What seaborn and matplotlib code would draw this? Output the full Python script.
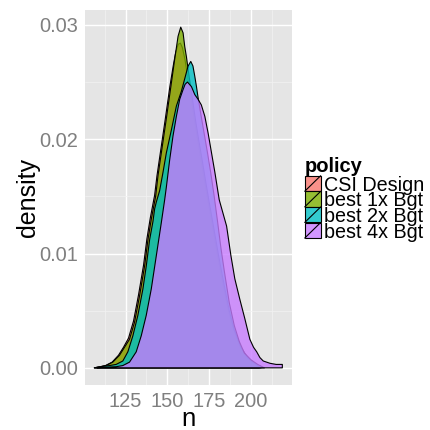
import matplotlib
matplotlib.use("Agg")
import matplotlib.pyplot as plt
import seaborn as sns
import pandas as pd
from matplotlib.patches import Rectangle
from matplotlib.lines import Line2D
from matplotlib.colors import to_rgba

# ---------------- data ----------------
policies = ["CSI Design", "best 1x Bgt", "best 2x Bgt", "best 4x Bgt"]
colors = ["#F8766D", "#7CAE00", "#00BFC4", "#C77CFF"]

csi_n = [106.4, 110, 113, 117, 120.8, 123.8, 126.8, 129.8, 132.8, 135.8, 137.8, 139.8,
         142.4, 143.8, 145.8, 148.7, 151.5, 153.5, 155, 156.5, 157.8, 159, 160.5, 162,
         164, 166, 168, 170, 172, 174, 177, 180, 183, 186, 189, 193, 197, 202, 205]
csi_d = [0, 0.0001, 0.0002, 0.0005, 0.0011, 0.0018, 0.0026, 0.0041, 0.0064, 0.0090, 0.0113, 0.0131,
         0.0151, 0.0168, 0.0188, 0.0217, 0.0246, 0.0264, 0.0276, 0.0283, 0.0284, 0.0280, 0.0270, 0.0256,
         0.0238, 0.0218, 0.0200, 0.0182, 0.0165, 0.0148, 0.0123, 0.0098, 0.0075, 0.0053, 0.0036, 0.0020,
         0.0010, 0.0003, 0]

b1_n = [106.4, 110, 113.4, 117.4, 121.4, 124.4, 127.4, 130.4, 133.4, 136.4, 138.4, 140.4,
        143.0, 144.4, 146.4, 149.3, 152.1, 154.1, 155.2, 156.4, 158.0, 159.4, 160.4, 161.4,
        163, 165, 167, 169, 171, 173, 175, 178, 181, 184, 187, 190, 194, 198, 203, 206]
b1_d = [0, 0.0001, 0.0002, 0.0005, 0.0011, 0.0018, 0.0025, 0.0040, 0.0063, 0.0089, 0.0112, 0.0130,
        0.0150, 0.0168, 0.0188, 0.0217, 0.0246, 0.0267, 0.0278, 0.0290, 0.0298, 0.0293, 0.0281, 0.0272,
        0.0255, 0.0235, 0.0215, 0.0197, 0.0180, 0.0162, 0.0145, 0.0120, 0.0095, 0.0072, 0.0050, 0.0033,
        0.0018, 0.0009, 0.0003, 0]

b2_n = [106.4, 110, 115.4, 119.4, 123.4, 126.4, 129.4, 132.4, 135.4, 137.4, 139.4, 141.4,
        142.4, 143.4, 144.4, 145.4, 147.4, 149.4, 152.4, 155.4, 158.4, 160.4, 162.4, 164.0,
        165.3, 166.4, 167.4, 168.3, 170, 172, 174, 176, 178, 180, 182, 184, 187, 190, 193,
        196, 200, 204, 208]
b2_d = [0, 0.0001, 0.0002, 0.0003, 0.0006, 0.0014, 0.0028, 0.0046, 0.0069, 0.0089, 0.0112, 0.0128,
        0.0139, 0.0145, 0.0150, 0.0155, 0.0171, 0.0188, 0.0208, 0.0229, 0.0242, 0.0253, 0.0264, 0.0268,
        0.0264, 0.0255, 0.0246, 0.0237, 0.0222, 0.0205, 0.0188, 0.0170, 0.0150, 0.0128, 0.0105, 0.0085,
        0.0057, 0.0037, 0.0023, 0.0013, 0.0007, 0.0003, 0]

b4_n = [108, 112, 119.4, 123.4, 127.4, 131.4, 134.4, 137.4, 140.4, 143.4, 146.4, 148.4,
        149.4, 151.4, 153.4, 155.4, 157.4, 159.3, 160.6, 162.0, 164.4, 166.4, 168.3, 170.3,
        172.4, 174.4, 176.4, 178.4, 181.0, 185.4, 188, 190.3, 193.3, 196.3, 199.3, 201.5,
        203.4, 205.3, 207.3, 211.3, 215, 218.7, 218.7]
b4_d = [0, 0.00005, 0.0001, 0.0002, 0.0005, 0.0014, 0.0028, 0.0046, 0.0069, 0.0098, 0.0127, 0.0147,
        0.0158, 0.0182, 0.0203, 0.0220, 0.0235, 0.0243, 0.0248, 0.0250, 0.0246, 0.0239, 0.0235, 0.0230,
        0.0220, 0.0205, 0.0188, 0.0171, 0.0147, 0.0124, 0.0098, 0.0078, 0.0060, 0.0043, 0.0025, 0.0018,
        0.0014, 0.0009, 0.0006, 0.0004, 0.0003, 0.0003, 0]

x_ticks = [125, 150, 175, 200]
y_ticks = [0.00, 0.01, 0.02, 0.03]
y_tick_labels = ["0.00", "0.01", "0.02", "0.03"]

frames = []
for name, xs, ys in zip(policies, [csi_n, b1_n, b2_n, b4_n], [csi_d, b1_d, b2_d, b4_d]):
    frames.append(pd.DataFrame({"n": xs, "density": ys, "policy": name}))
df = pd.concat(frames, ignore_index=True)

# ---------------- style ----------------
sns.set_theme(style="darkgrid")
plt.rcParams["font.family"] = ["Liberation Sans", "DejaVu Sans"]

W = H = 430
fig = plt.figure(figsize=(4.3, 4.3), dpi=100)
fig.patch.set_facecolor("white")

L, R, T, B = 85, 291.7, 10, 385
ax = fig.add_axes([L / W, 1 - B / H, (R - L) / W, (B - T) / H])
ax.set_facecolor("#E5E5E5")
for s in ax.spines.values():
    s.set_visible(False)

alpha = 0.8
for i, (name, col) in enumerate(zip(policies, colors)):
    sub = df[df["policy"] == name]
    ax.fill(sub["n"].to_numpy(), sub["density"].to_numpy(),
            facecolor=to_rgba(col, alpha), edgecolor="black", linewidth=0.8,
            joinstyle="round", zorder=2 + i)

ax.set_xlim(100.8, 224.3)
ax.set_ylim(-0.0015, 0.0313)

ax.set_xticks(x_ticks)
ax.set_xticks([112.5, 137.5, 162.5, 187.5, 212.5], minor=True)
ax.set_yticks(y_ticks)
ax.set_yticklabels(y_tick_labels)
ax.set_yticks([0.005, 0.015, 0.025], minor=True)

ax.grid(which="major", color="white", linewidth=1.0, zorder=0)
ax.grid(which="minor", color="#F2F2F2", linewidth=0.5, zorder=0)
ax.set_axisbelow(True)

ax.tick_params(axis="both", which="major", length=3.2, width=0.6, color="#7F7F7F",
               labelcolor="#7F7F7F", labelsize=14.4, pad=2.0, direction="out")
ax.tick_params(axis="both", which="minor", length=0)
ax.tick_params(axis="x", pad=2.0)

ax.set_xlabel("n", fontsize=18.5, color="black")
ax.xaxis.label.set_va("baseline")
ax.xaxis.set_label_coords(0.5, (B - 426.5) / (B - T))

ax.set_ylabel("density", fontsize=18, color="black")
ax.yaxis.label.set_va("baseline")
ax.yaxis.set_label_coords((35 - L) / (R - L), 0.5)

# ---------------- legend (ggplot style) ----------------
def fx(x):
    return x / W

def fy(y):
    return 1 - y / H

fig.text(fx(304.7), fy(171.7), "policy", fontsize=14.5, fontweight="bold",
         va="baseline", ha="left", color="black")
key_l, key_r = 304.7, 320.7
key_h = 15.6
top0 = 175.7
for i, (name, col) in enumerate(zip(policies, colors)):
    t = top0 + i * key_h
    b = t + key_h
    fig.add_artist(Rectangle((fx(key_l), fy(b)), fx(key_r) - fx(key_l), fy(t) - fy(b),
                             transform=fig.transFigure, facecolor=to_rgba(col, alpha),
                             edgecolor="black", linewidth=0.8))
    fig.add_artist(Line2D([fx(key_l), fx(key_r)], [fy(b), fy(t)], transform=fig.transFigure,
                          color="black", linewidth=0.8))
    fig.text(fx(323.5), fy(b - 0.5), name, fontsize=14.2, va="baseline", ha="left",
             color="black")

fig.savefig("out.png", dpi=100, facecolor="white")
